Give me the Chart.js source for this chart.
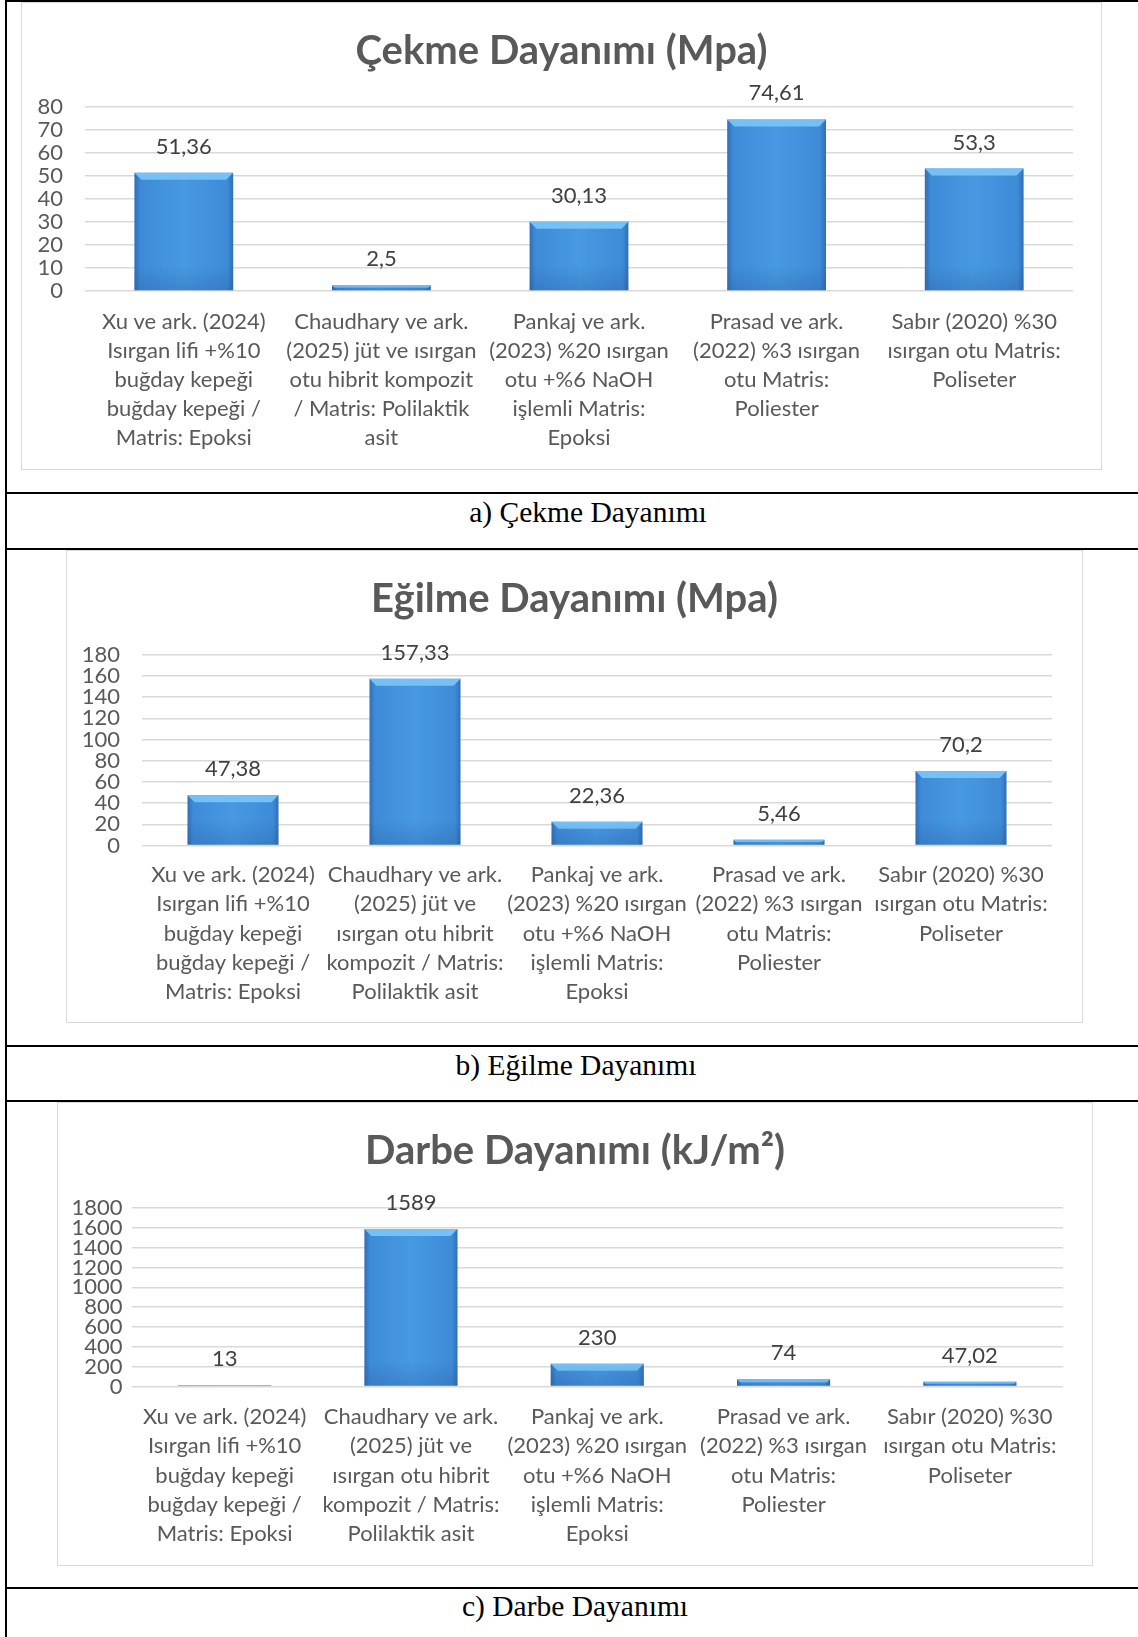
<!DOCTYPE html>
<html><head><meta charset="utf-8">
<script src="https://cdn.jsdelivr.net/npm/chart.js@4.4.1/dist/chart.umd.min.js"></script>
<style>
html,body{margin:0;padding:0;background:#fff;}
body{width:1138px;height:1637px;position:relative;overflow:hidden;}
.hl{position:absolute;left:5px;width:1133px;height:2px;background:#000;}
.vl{position:absolute;left:5px;top:0;width:2px;height:1637px;background:#000;}
.frame{position:absolute;background:#fff;}
.frame canvas{position:absolute;left:0;top:0;}
.frame .bd{position:absolute;left:0;top:0;right:0;bottom:0;border:1.5px solid #d9d9d9;pointer-events:none;}
.cap{position:absolute;font-family:"Liberation Serif","Times New Roman",serif;font-size:29.5px;line-height:29.5px;color:#000;white-space:nowrap;transform:translateX(-50%);}
</style></head>
<body>
<div class="hl" style="top:0;height:1.5px"></div>
<div class="vl"></div>
<div class="hl" style="top:492px"></div>
<div class="hl" style="top:548px"></div>
<div class="hl" style="top:1045px"></div>
<div class="hl" style="top:1100px"></div>
<div class="hl" style="top:1587px"></div>

<div class="frame" style="left:21px;top:2px;width:1081px;height:468px"><canvas id="cA" width="1081" height="468"></canvas><div class="bd"></div></div>
<div class="frame" style="left:66px;top:550px;width:1017px;height:473px"><canvas id="cB" width="1017" height="473"></canvas><div class="bd"></div></div>
<div class="frame" style="left:57px;top:1102px;width:1036px;height:464px"><canvas id="cC" width="1036" height="464"></canvas><div class="bd"></div></div>

<div class="cap" style="left:588px;top:498px">a) Çekme Dayanımı</div>
<div class="cap" style="left:576px;top:1051px">b) Eğilme Dayanımı</div>
<div class="cap" style="left:575px;top:1592px">c) Darbe Dayanımı</div>

<script>
// ---------- DATA ----------
const titleA = "Çekme Dayanımı (Mpa)";
const titleB = "Eğilme Dayanımı (Mpa)";
const titleC = "Darbe Dayanımı (kJ/m²)";

const categoriesA = [
  ["Xu ve ark. (2024)", "Isırgan lifi +%10", "buğday kepeği", "buğday kepeği /", "Matris: Epoksi"],
  ["Chaudhary ve ark.", "(2025) jüt ve ısırgan", "otu hibrit kompozit", "/ Matris: Polilaktik", "asit"],
  ["Pankaj ve ark.", "(2023) %20 ısırgan", "otu +%6 NaOH", "işlemli Matris:", "Epoksi"],
  ["Prasad ve ark.", "(2022) %3 ısırgan", "otu Matris:", "Poliester"],
  ["Sabır (2020) %30", "ısırgan otu Matris:", "Poliseter"]
];
const categoriesB = [
  ["Xu ve ark. (2024)", "Isırgan lifi +%10", "buğday kepeği", "buğday kepeği /", "Matris: Epoksi"],
  ["Chaudhary ve ark.", "(2025) jüt ve", "ısırgan otu hibrit", "kompozit / Matris:", "Polilaktik asit"],
  ["Pankaj ve ark.", "(2023) %20 ısırgan", "otu +%6 NaOH", "işlemli Matris:", "Epoksi"],
  ["Prasad ve ark.", "(2022) %3 ısırgan", "otu Matris:", "Poliester"],
  ["Sabır (2020) %30", "ısırgan otu Matris:", "Poliseter"]
];
const categoriesC = categoriesB;

const valuesA = [51.36, 2.5, 30.13, 74.61, 53.3];
const valuesB = [47.38, 157.33, 22.36, 5.46, 70.2];
const valuesC = [13, 1589, 230, 74, 47.02];

const yMaxA = 80,   yStepA = 10;
const yMaxB = 180,  yStepB = 20;
const yMaxC = 1800, yStepC = 200;

// ---------- STYLE ----------
const FONT = "Lato, Carlito, 'Open Sans', sans-serif";
const TXT = "#595959";

const barStyle = {
  id: 'barStyle',
  beforeDatasetsDraw(chart) {
    const ctx = chart.ctx;
    chart.getDatasetMeta(0).data.forEach(el => {
      const l = el.x - el.width / 2, r = el.x + el.width / 2;
      const g = ctx.createLinearGradient(l, 0, r, 0);
      g.addColorStop(0, '#2f6fb6');
      g.addColorStop(0.06, '#3e8bd7');
      g.addColorStop(0.5, '#4799e2');
      g.addColorStop(0.94, '#3e8bd7');
      g.addColorStop(1, '#2f6fb6');
      el.options = Object.assign({}, el.options, { backgroundColor: g });
    });
  },
  afterDatasetsDraw(chart) {
    const ctx = chart.ctx;
    chart.getDatasetMeta(0).data.forEach(el => {
      const l = el.x - el.width / 2, r = el.x + el.width / 2;
      const t = el.y, b = el.base;
      const h = b - t;
      if (h <= 0) return;
      const bev = Math.min(7, h / 2);
      ctx.save();
      ctx.beginPath();
      ctx.moveTo(l, t); ctx.lineTo(r, t); ctx.lineTo(r - bev, t + bev); ctx.lineTo(l + bev, t + bev); ctx.closePath();
      ctx.fillStyle = 'rgba(120,195,245,0.95)';
      ctx.fill();
      const sh = Math.min(25, h);
      const g2 = ctx.createLinearGradient(0, b - sh, 0, b);
      g2.addColorStop(0, 'rgba(30,70,130,0)');
      g2.addColorStop(1, 'rgba(30,70,130,0.22)');
      ctx.fillStyle = g2;
      ctx.fillRect(l, b - sh, r - l, sh);
      ctx.restore();
    });
  }
};

const valueLabels = {
  id: 'valueLabels',
  afterDatasetsDraw(chart) {
    const ctx = chart.ctx;
    const ds = chart.data.datasets[0];
    ctx.save();
    ctx.font = "22px " + FONT;
    ctx.fillStyle = '#404040';
    ctx.textAlign = 'center';
    ctx.textBaseline = 'middle';
    chart.getDatasetMeta(0).data.forEach((el, i) => {
      ctx.fillText(String(ds.data[i]).replace('.', ','), el.x, el.y - 26);
    });
    ctx.restore();
  }
};

const titleDraw = {
  id: 'titleDraw',
  afterDraw(chart) {
    const o = chart.options.plugins.titleDraw;
    const ctx = chart.ctx;
    ctx.save();
    ctx.font = "bold 40px " + FONT;
    ctx.fillStyle = TXT;
    ctx.textAlign = 'center';
    ctx.textBaseline = 'middle';
    ctx.fillText(o.text, chart.width / 2, o.y);
    ctx.restore();
  }
};

function makeChart(id, title, cats, vals, yMax, yStep, geo) {
  const canvas = document.getElementById(id);
  const W = canvas.width, H = canvas.height;
  return new Chart(canvas, {
    type: 'bar',
    data: {
      labels: cats,
      datasets: [{ data: vals, backgroundColor: '#4190dc', borderWidth: 0,
        categoryPercentage: 1.0, barPercentage: 0.5 }]
    },
    options: {
      responsive: false,
      animation: false,
      devicePixelRatio: 1,
      layout: { padding: { left: 0, top: geo.top, right: W - geo.right, bottom: 0 } },
      plugins: {
        legend: { display: false },
        title: { display: false },
        tooltip: { enabled: false },
        titleDraw: { text: title, y: geo.titleY }
      },
      scales: {
        x: {
          grid: { display: false, drawTicks: false },
          border: { display: false },
          ticks: {
            autoSkip: false, maxRotation: 0, minRotation: 0,
            padding: geo.xPad, color: TXT,
            font: { family: FONT, size: 22, lineHeight: '29.2px' }
          },
          afterFit(s) { s.height = H - geo.bottom; }
        },
        y: {
          min: 0, max: yMax,
          grid: { color: '#d9d9d9', lineWidth: 1.5, drawTicks: false },
          border: { display: false },
          ticks: {
            autoSkip: false, stepSize: yStep, padding: geo.yPad, color: TXT,
            font: { family: FONT, size: 22, lineHeight: 1 },
            callback: v => String(v)
          },
          afterFit(s) { s.width = geo.left; }
        }
      }
    },
    plugins: [barStyle, valueLabels, titleDraw]
  });
}

makeChart('cA', titleA, categoriesA, valuesA, yMaxA, yStepA,
  { left: 64, right: 1052, top: 105, bottom: 289, titleY: 49, xPad: 16, yPad: 22 });
makeChart('cB', titleB, categoriesB, valuesB, yMaxB, yStepB,
  { left: 76, right: 986, top: 104.6, bottom: 295.6, titleY: 49, xPad: 15, yPad: 22 });
makeChart('cC', titleC, categoriesC, valuesC, yMaxC, yStepC,
  { left: 74.5, right: 1006, top: 106, bottom: 284.5, titleY: 49, xPad: 16, yPad: 9 });
</script>
</body></html>
